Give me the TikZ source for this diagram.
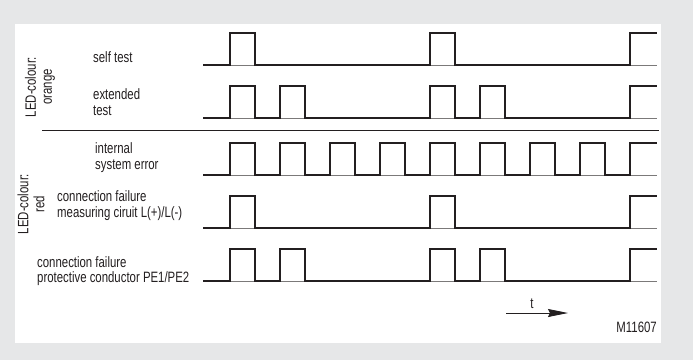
\documentclass[tikz,border=0pt]{standalone}
\usepackage{fontspec}
\setmainfont[FakeStretch=0.76]{Liberation Sans}
\usetikzlibrary{arrows.meta}

\definecolor{panelgray}{HTML}{E6E7E8}
\definecolor{ink}{HTML}{231F20}

\tikzset{
  signal/.style={ink, line width=1.8pt, line join=miter},
  baseline/.style={ink!60, line width=0.6pt},
  lbl/.style={ink, inner sep=0pt, align=left, anchor=west,
    font=\fontsize{15}{15.5}\selectfont},
  ledlbl/.style={ink, inner sep=0pt, align=center, rotate=90,
    font=\fontsize{15}{16}\selectfont}
}

\begin{document}
\begin{tikzpicture}[x=1pt, y=-1pt]
        % Hintergrund und weisses Feld
        \useasboundingbox (0,0) rectangle (693,360);
        \fill[panelgray] (0,0) rectangle (693,360);
        \fill[white] (15,24) rectangle (661,343);

        % Signalverlaeufe: \y = low level, pulses of 25 in a period of 50
        \foreach \y/\list in {65/{230,430}, 118/{230,280,430,480},
                              175/{230,280,330,380,430,480,530,580},
                              228/{230,430}, 281/{230,280,430,480}} {
            \draw[baseline] (203,\y) -- (657,\y);
            \draw[signal] (203,\y)
                \foreach \p in \list { -- (\p,\y) -- (\p,\y-32) -- (\p+25,\y-32) -- (\p+25,\y) }
                -- (630,\y) -- (630,\y-32) -- (657,\y-32);
        }

        % Trennlinie orange / rot
        \draw[ink, line width=0.9pt] (42,130) -- (659,130);

        % Beschriftung der Zeilen
        \node[lbl] (selftest) at (93,57) {self test};
        \node[lbl] (exttest) at (93,102) {extended\\test};
        \node[lbl] (syserr) at (95,157.5) {internal\\system error};
        \node[lbl] (failL) at (57,205.5) {connection failure\\measuring ciruit L(+)/L(-)};
        \node[lbl] (failPE) at (37,271) {connection failure\\protective conductor PE1/PE2};

        % LED-Farben
        \node[ledlbl] (ledorange) at (40,87) {LED-colour:\\orange};
        \node[ledlbl] (ledred) at (31,204) {LED-colour:\\red};

        % Zeitachse
        \coordinate (t0) at (506,313);
        \coordinate (t1) at (568,313);
        \draw[ink, line width=0.9pt, -{Stealth[length=20pt, width=8pt, inset=2pt]}] (t0) -- (t1);
        \node[lbl, anchor=center] (tlabel) at (532,304) {t};

        % Bildnummer
        \node[lbl, anchor=east] (mnum) at (657,327) {M11607};
\end{tikzpicture}
\end{document}
